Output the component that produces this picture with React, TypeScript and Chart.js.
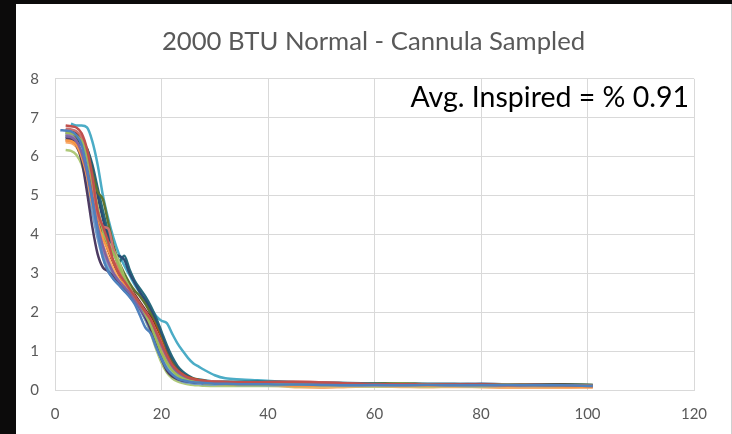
import React, { useEffect, useRef } from "react";
import { Chart, registerables } from "chart.js";

Chart.register(...registerables);

// Elapsed time (s) shared by every run
const X = [
  1, 2, 3, 4, 5, 6, 7, 8, 9, 10, 11, 12, 13, 14, 15, 16, 17, 18, 19, 20, 21, 22, 23, 24, 25, 26, 27, 28,
  30, 32, 35, 38, 42, 46, 50, 55, 60, 65, 70, 75, 80, 85, 90, 95, 101,
];

const X_TICKS = [0, 20, 40, 60, 80, 100, 120];
const Y_TICKS = [0, 1, 2, 3, 4, 5, 6, 7, 8];

const TITLE = "2000 BTU Normal - Cannula Sampled";
const NOTE = "Avg. Inspired = % 0.91";

// Concentration per run at each time in X
const run01 = [6.68, 6.67, 6.65, 6.55, 6.3, 5.7, 4.9, 4.1, 3.4, 3.05, 2.85, 2.7, 2.55, 2.4, 2.2, 1.9, 1.6, 1.45, 1.1, 0.8, 0.55, 0.4, 0.3, 0.25, 0.22, 0.2, 0.19, 0.18,
  0.16, 0.16, 0.15, 0.15, 0.14, 0.14, 0.13, 0.12, 0.13, 0.12, 0.13, 0.12, 0.12, 0.13, 0.12, 0.12, 0.1];
const run02 = [null, 6.8, 6.78, 6.75, 6.6, 6.2, 5.5, 4.6, 4.2, 3.8, 3.3, 3.0, 2.8, 2.6, 2.4, 2.2, 2.0, 1.8, 1.5, 1.2, 0.9, 0.65, 0.5, 0.4, 0.32, 0.28, 0.25, 0.23,
  0.21, 0.2, 0.2, 0.2, 0.21, 0.2, 0.19, 0.17, 0.15, 0.15, 0.14, 0.14, 0.14, 0.13, 0.13, 0.12, 0.1];
const run03 = [null, 6.62, 6.6, 6.55, 6.4, 6.0, 5.4, 4.7, 4.1, 3.75, 3.5, 3.2, 2.9, 2.65, 2.4, 2.2, 1.95, 1.65, 1.3, 0.95, 0.7, 0.5, 0.38, 0.3, 0.25, 0.22, 0.2, 0.18,
  0.16, 0.15, 0.15, 0.14, 0.14, 0.14, 0.13, 0.13, 0.14, 0.16, 0.14, 0.13, 0.13, 0.14, 0.13, 0.12, 0.11];
const run04 = [null, 6.52, 6.5, 6.4, 6.1, 5.6, 4.9, 4.2, 3.7, 3.3, 3.0, 2.8, 2.65, 2.5, 2.3, 2.1, 1.9, 1.7, 1.45, 1.15, 0.85, 0.6, 0.45, 0.35, 0.28, 0.24, 0.21, 0.2,
  0.18, 0.17, 0.17, 0.16, 0.16, 0.15, 0.15, 0.14, 0.14, 0.13, 0.14, 0.13, 0.13, 0.12, 0.13, 0.12, 0.11];
const run05 = [null, 6.42, 6.4, 6.3, 6.0, 5.5, 4.8, 4.3, 3.9, 3.6, 3.3, 3.0, 2.75, 2.55, 2.35, 2.15, 2.0, 1.8, 1.5, 1.15, 0.8, 0.55, 0.4, 0.3, 0.25, 0.22, 0.2, 0.18,
  0.16, 0.15, 0.14, 0.14, 0.13, 0.1, 0.12, 0.13, 0.12, 0.12, 0.11, 0.12, 0.11, 0.1, 0.1, 0.09, 0.08];
const run06 = [null, 6.47, 6.45, 6.3, 5.9, 5.1, 4.2, 3.5, 3.15, 3.05, 2.9, 2.75, 2.6, 2.45, 2.3, 2.1, 1.85, 1.55, 1.15, 0.8, 0.5, 0.35, 0.28, 0.24, 0.22, 0.2, 0.19, 0.18,
  0.17, 0.17, 0.16, 0.16, 0.16, 0.15, 0.15, 0.14, 0.14, 0.15, 0.15, 0.14, 0.15, 0.14, 0.14, 0.13, 0.12];
const run07 = [null, 6.52, 6.5, 6.35, 6.0, 5.4, 4.6, 3.9, 3.4, 3.05, 2.85, 2.7, 2.55, 2.4, 2.25, 2.05, 1.8, 1.5, 1.15, 0.8, 0.55, 0.38, 0.28, 0.22, 0.19, 0.17, 0.16, 0.15,
  0.14, 0.14, 0.13, 0.13, 0.12, 0.12, 0.12, 0.11, 0.11, 0.12, 0.11, 0.11, 0.1, 0.11, 0.1, 0.1, 0.09];
const run08 = [null, 6.72, 6.7, 6.65, 6.5, 6.0, 5.3, 4.5, 4.2, 4.15, 3.6, 3.1, 2.8, 2.6, 2.4, 2.2, 2.0, 1.75, 1.45, 1.1, 0.8, 0.58, 0.45, 0.36, 0.3, 0.26, 0.24, 0.23,
  0.22, 0.21, 0.2, 0.2, 0.2, 0.22, 0.2, 0.17, 0.15, 0.14, 0.14, 0.13, 0.13, 0.13, 0.12, 0.12, 0.11];
const run09 = [null, 6.17, 6.15, 6.05, 5.8, 5.3, 4.6, 4.1, 4.0, 3.8, 3.6, 3.3, 2.9, 2.6, 2.35, 2.1, 1.8, 1.45, 1.05, 0.7, 0.45, 0.3, 0.22, 0.18, 0.15, 0.13, 0.12, 0.11,
  0.1, 0.1, 0.1, 0.1, 0.1, 0.09, 0.1, 0.1, 0.09, 0.1, 0.09, 0.1, 0.09, 0.1, 0.1, 0.09, null];
const run10 = [null, 6.57, 6.55, 6.4, 6.1, 5.5, 4.8, 4.1, 3.6, 3.25, 3.0, 2.8, 2.65, 2.5, 2.35, 2.2, 2.0, 1.75, 1.45, 1.1, 0.8, 0.55, 0.4, 0.3, 0.25, 0.22, 0.2, 0.19,
  0.17, 0.17, 0.16, 0.16, 0.15, 0.15, 0.15, 0.14, 0.14, 0.14, 0.13, 0.14, 0.13, 0.13, 0.13, 0.12, 0.12];
const run11 = [null, 6.37, 6.35, 6.25, 5.95, 5.45, 4.8, 4.2, 3.75, 3.4, 3.1, 2.85, 2.65, 2.45, 2.25, 2.05, 1.9, 1.75, 1.5, 1.2, 0.85, 0.6, 0.45, 0.35, 0.28, 0.24, 0.21, 0.19,
  0.16, 0.15, 0.14, 0.12, 0.1, 0.07, 0.06, 0.08, 0.09, 0.08, 0.07, 0.08, 0.07, 0.06, 0.06, 0.06, 0.07];
const run12 = [null, 6.47, 6.45, 6.3, 6.0, 5.5, 4.7, 4.0, 3.5, 3.15, 2.9, 2.75, 2.6, 2.45, 2.3, 2.1, 1.85, 1.55, 1.2, 0.85, 0.6, 0.42, 0.32, 0.26, 0.22, 0.2, 0.19, 0.18,
  0.16, 0.16, 0.15, 0.15, 0.14, 0.14, 0.13, 0.13, 0.12, 0.12, 0.12, 0.12, 0.11, 0.12, 0.11, 0.11, 0.1];
const run13 = [null, 6.67, 6.65, 6.6, 6.45, 6.1, 5.4, 4.6, 4.0, 3.6, 3.3, 3.05, 2.85, 2.65, 2.45, 2.25, 2.05, 1.85, 1.55, 1.2, 0.9, 0.65, 0.48, 0.37, 0.3, 0.26, 0.23, 0.21,
  0.19, 0.18, 0.18, 0.17, 0.17, 0.16, 0.16, 0.15, 0.15, 0.14, 0.15, 0.14, 0.14, 0.14, 0.13, 0.13, 0.12];
const run14 = [null, 6.42, 6.4, 6.35, 6.1, 5.7, 5.1, 4.5, 4.0, 3.6, 3.25, 2.95, 2.7, 2.5, 2.3, 2.15, 2.0, 1.85, 1.6, 1.25, 0.9, 0.65, 0.5, 0.4, 0.33, 0.29, 0.26, 0.24,
  0.2, 0.19, 0.18, 0.17, 0.16, 0.16, 0.15, 0.13, 0.12, 0.11, 0.1, 0.1, 0.1, 0.09, 0.09, 0.08, 0.08];
const run15 = [null, 6.57, 6.55, 6.5, 6.4, 6.2, 5.6, 5.1, 4.9, 4.3, 3.7, 3.3, 3.0, 2.75, 2.55, 2.4, 2.2, 1.95, 1.65, 1.3, 0.95, 0.7, 0.52, 0.4, 0.32, 0.27, 0.24, 0.22,
  0.2, 0.19, 0.18, 0.18, 0.17, 0.17, 0.16, 0.15, 0.16, 0.17, 0.15, 0.15, 0.14, 0.15, 0.14, 0.14, 0.13];
const run16 = [null, 6.62, 6.6, 6.45, 6.35, 6.2, 5.7, 5.0, 4.4, 3.9, 3.5, 3.45, 3.35, 3.0, 2.75, 2.5, 2.3, 2.05, 1.75, 1.4, 1.05, 0.75, 0.55, 0.42, 0.34, 0.28, 0.25, 0.23,
  0.2, 0.2, 0.2, 0.18, 0.19, 0.18, 0.17, 0.16, 0.15, 0.16, 0.15, 0.15, 0.16, 0.15, 0.15, 0.14, 0.12];
const run17 = [null, 6.52, 6.5, 6.4, 6.3, 6.2, 5.8, 5.2, 4.6, 4.05, 3.6, 3.3, 3.45, 3.1, 2.8, 2.6, 2.4, 2.15, 1.85, 1.5, 1.15, 0.85, 0.62, 0.47, 0.37, 0.3, 0.27, 0.25,
  0.22, 0.22, 0.21, 0.22, 0.21, 0.2, 0.19, 0.18, 0.17, 0.16, 0.16, 0.16, 0.15, 0.15, 0.15, 0.14, 0.13];
const run18 = [null, null, 6.85, 6.8, 6.8, 6.75, 6.4, 5.8, 5.0, 4.4, 3.9, 3.5, 3.2, 2.95, 2.7, 2.5, 2.3, 2.1, 1.9, 1.78, 1.72, 1.45, 1.2, 1.0, 0.82, 0.68, 0.6, 0.52,
  0.38, 0.3, 0.27, 0.25, 0.22, 0.2, 0.18, 0.17, 0.16, 0.15, 0.15, 0.14, 0.14, 0.14, 0.13, 0.13, 0.12];

const RUNS = [run01, run02, run03, run04, run05, run06, run07, run08, run09, run10, run11, run12, run13, run14, run15, run16, run17, run18];

const COLORS = [
  "#4F81BD", "#C0504D", "#9BBB59", "#8064A2", "#F79646", "#4D3B62",
  "#729ACA", "#CD7371", "#AFC97A", "#9983B5", "#F9AB6B", "#6FBDD1",
  "#772C2A", "#B65708", "#5F7530", "#2C4D75", "#276A7C", "#4BACC6",
];

const FONT = "Lato, 'Open Sans', sans-serif";
const TEXT_GRAY = "#595959";
const GRID_GRAY = "#d9d9d9";

// Writes the average-inspired note in the upper-right corner of the plot
const notePlugin = {
  id: "note",
  afterDraw(chart: Chart) {
    const { ctx, chartArea } = chart;
    ctx.save();
    ctx.font = `28.5px ${FONT}`;
    ctx.fillStyle = "#000000";
    ctx.textAlign = "right";
    ctx.textBaseline = "middle";
    ctx.fillText(NOTE, chartArea.right - 5, chartArea.top + 19);
    ctx.restore();
  },
};

export default function App() {
  const canvasRef = useRef<HTMLCanvasElement | null>(null);

  useEffect(() => {
    const canvas = canvasRef.current;
    if (!canvas) return;
    const datasets = RUNS.map((vals, i) => ({
      label: `Run ${i + 1}`,
      data: X.map((x, j) => ({ x, y: vals[j] ?? null })).filter((p) => p.y !== null),
      borderColor: COLORS[i],
      backgroundColor: COLORS[i],
      borderWidth: 2.5,
      pointRadius: 0,
      cubicInterpolationMode: "monotone" as const,
      fill: false,
    }));

    const chart = new Chart(canvas, {
      type: "line",
      data: { datasets },
      options: {
        animation: false,
        responsive: false,
        maintainAspectRatio: false,
        layout: { padding: 0 },
        plugins: {
          legend: { display: false },
          tooltip: { enabled: false },
          title: {
            display: true,
            text: TITLE,
            color: TEXT_GRAY,
            font: { family: FONT, size: 25.7, weight: "normal" },
            padding: { top: 22, bottom: 22 },
          },
        },
        scales: {
          x: {
            type: "linear",
            min: 0,
            max: 120,
            afterBuildTicks: (scale: any) => {
              scale.ticks = X_TICKS.map((v) => ({ value: v }));
            },
            afterFit: (scale: any) => {
              scale.height = 44;
            },
            ticks: { color: TEXT_GRAY, font: { family: FONT, size: 15 }, padding: 15, maxRotation: 0 },
            grid: { color: GRID_GRAY, lineWidth: 1, drawTicks: false },
            border: { color: GRID_GRAY, width: 1 },
          },
          y: {
            type: "linear",
            min: 0,
            max: 8,
            afterBuildTicks: (scale: any) => {
              scale.ticks = Y_TICKS.map((v) => ({ value: v }));
            },
            afterFit: (scale: any) => {
              scale.width = 39;
            },
            ticks: { color: TEXT_GRAY, font: { family: FONT, size: 15 }, padding: 16 },
            grid: { color: GRID_GRAY, lineWidth: 1, drawTicks: false },
            border: { color: GRID_GRAY, width: 1 },
          },
          // blank margin on the right of the plot
          yMargin: {
            type: "linear",
            position: "right",
            min: 0,
            max: 8,
            afterFit: (scale: any) => {
              scale.width = 37;
            },
            ticks: { display: false },
            grid: { display: false, drawOnChartArea: false, drawTicks: false },
            border: { display: false },
          },
        },
      },
      plugins: [notePlugin],
    });
    return () => chart.destroy();
  }, []);

  return (
    <div
      style={{
        position: "fixed",
        left: 0,
        top: 0,
        width: 732,
        height: 434,
        background: "#0c0b0b",
        overflow: "hidden",
      }}
    >
      <div
        style={{
          position: "absolute",
          left: 16,
          top: 4,
          width: 715,
          height: 430,
          background: "#ffffff",
          borderRight: "1px solid #cfcfcf",
        }}
      >
        <canvas ref={canvasRef} width={715} height={430} style={{ display: "block" }} />
      </div>
    </div>
  );
}
